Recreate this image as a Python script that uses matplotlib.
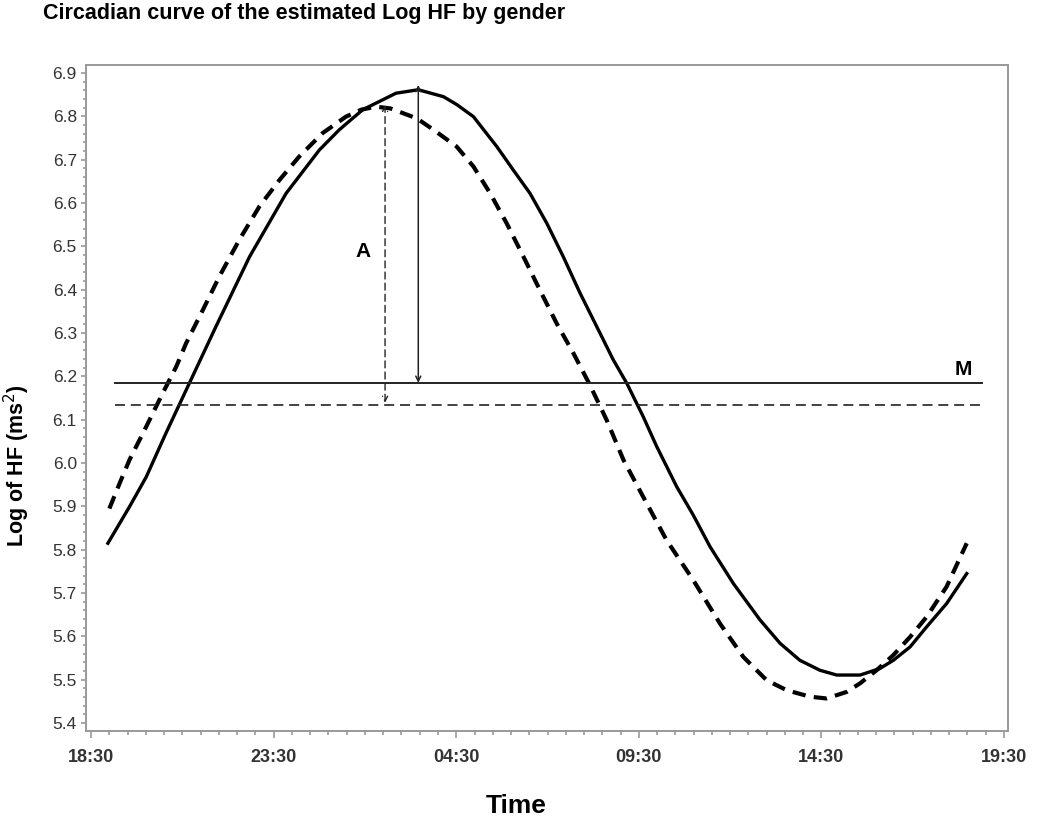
import matplotlib.pyplot as plt
from matplotlib.ticker import MultipleLocator

plt.rcParams['font.family'] = ['Liberation Sans', 'DejaVu Sans']

# hours after 18:30
tick_pos = [0, 5, 10, 15, 20, 25]
tick_labels = ['18:30', '23:30', '04:30', '09:30', '14:30', '19:30']

# solid curve
solid_t = [0.46, 1.05, 1.51, 2.05, 2.69, 3.42, 4.34, 5.34, 6.25, 6.80, 7.44, 8.35,
           8.96, 9.65, 10.01, 10.47, 11.11, 11.56, 12.02, 12.48, 12.93, 13.39, 13.94,
           14.30, 14.67, 15.12, 15.49, 16.04, 16.49, 16.95, 17.59, 18.32, 18.87, 19.41,
           19.96, 20.42, 21.06, 21.60, 21.97, 22.43, 22.88, 23.43, 23.98]
solid_v = [5.815, 5.899, 5.968, 6.069, 6.184, 6.315, 6.476, 6.622, 6.722, 6.769, 6.815, 6.853,
           6.861, 6.845, 6.827, 6.799, 6.730, 6.676, 6.622, 6.553, 6.476, 6.392, 6.299,
           6.238, 6.184, 6.107, 6.038, 5.945, 5.880, 5.807, 5.722, 5.638, 5.584, 5.545,
           5.522, 5.511, 5.511, 5.526, 5.545, 5.576, 5.622, 5.676, 5.745]

# dashed curve
dash_t = [0.50, 0.78, 1.05, 1.51, 1.96, 2.33, 2.60, 3.06, 3.51, 4.06, 4.61, 5.16, 5.70,
          6.34, 6.98, 7.40, 7.80, 8.19, 8.92, 9.37, 10.01, 10.47, 10.93, 11.38, 11.84,
          12.29, 12.75, 13.21, 13.66, 14.12, 14.58, 15.12, 15.76, 16.49, 17.22, 17.86,
          18.50, 19.05, 19.69, 20.14, 20.69, 21.06, 21.51, 21.97, 22.43, 22.88, 23.43, 23.98]
dash_v = [5.895, 5.953, 6.007, 6.084, 6.161, 6.222, 6.276, 6.353, 6.430, 6.515, 6.592, 6.653, 6.707,
          6.761, 6.799, 6.815, 6.822, 6.818, 6.795, 6.769, 6.730, 6.684, 6.622, 6.553, 6.476,
          6.399, 6.322, 6.253, 6.180, 6.099, 6.007, 5.922, 5.822, 5.730, 5.630, 5.553,
          5.499, 5.476, 5.461, 5.457, 5.472, 5.492, 5.522, 5.557, 5.599, 5.645, 5.715, 5.815]

# mesor lines
mesor_solid = 6.185
mesor_dash = 6.134
mesor_span = [0.665, 24.39]

# amplitude arrows: (time, bottom, top)
arrow_solid = (8.96, 6.185, 6.872)
arrow_dash = (8.05, 6.139, 6.826)

fig = plt.figure(figsize=(10.5, 8.17), dpi=100)
ax = fig.add_axes([0.0819, 0.1053, 0.8781, 0.8151])

ax.plot(solid_t, solid_v, color='black', lw=2.4, solid_joinstyle='round')
ax.plot(dash_t, dash_v, color='black', lw=3.0, dashes=(3.2, 2.0))

ax.plot(mesor_span, [mesor_solid, mesor_solid], color='#222222', lw=1.4)
ax.plot(mesor_span, [mesor_dash, mesor_dash], color='#222222', lw=1.2, dashes=(6, 3.5))

ax.annotate('', xy=(arrow_solid[0], arrow_solid[2]), xytext=(arrow_solid[0], arrow_solid[1]),
            arrowprops=dict(arrowstyle='<->', color='#222222', lw=1.1, mutation_scale=9,
                            shrinkA=0, shrinkB=0))
ax.annotate('', xy=(arrow_dash[0], arrow_dash[2]), xytext=(arrow_dash[0], arrow_dash[1]),
            arrowprops=dict(arrowstyle='<->', color='#222222', lw=1.0, mutation_scale=9,
                            linestyle=(0, (5, 3)), shrinkA=0, shrinkB=0))

ax.text(7.46, 6.488, 'A', fontsize=15, fontweight='bold', ha='center', va='center')
ax.text(23.89, 6.215, 'M', fontsize=15, fontweight='bold', ha='center', va='center')

ax.set_xlim(-0.14, 25.11)
ax.set_ylim(5.382, 6.918)

ax.set_xticks(tick_pos)
ax.set_xticklabels(tick_labels, family=['Liberation Sans Narrow', 'Liberation Sans'],
                   fontweight='bold', fontsize=13, color='#333333')
ax.xaxis.set_minor_locator(MultipleLocator(0.5))
ax.yaxis.set_major_locator(MultipleLocator(0.1))
ax.yaxis.set_minor_locator(MultipleLocator(0.02))
ax.set_yticklabels([f'{v:.1f}' for v in ax.get_yticks()])
ax.tick_params(axis='y', labelsize=12.5, labelcolor='#333333', pad=3)

for s in ax.spines.values():
    s.set_color('#999999')
    s.set_linewidth(1.4)
ax.tick_params(which='both', color='#999999', width=1.2, direction='out')
ax.tick_params(axis='y', which='major', length=3.6)
ax.tick_params(axis='y', which='minor', length=2.2)
ax.tick_params(axis='x', which='major', length=5)
ax.tick_params(axis='x', which='minor', length=3)
ax.tick_params(axis='x', pad=8)

fig.text(0.041, 0.996, 'Circadian curve of the estimated Log HF by gender',
         fontsize=15.5, fontweight='bold', ha='left', va='top')
fig.text(516 / 1050, 1 - 806 / 817, 'Time', fontsize=19, fontweight='bold',
         ha='center', va='center')
fig.text(17 / 1050, 1 - 466 / 817, 'Log of HF (ms$^2$)', fontsize=15.5, fontweight='bold',
         rotation=90, ha='center', va='center')

fig.savefig('out.png', dpi=100)
